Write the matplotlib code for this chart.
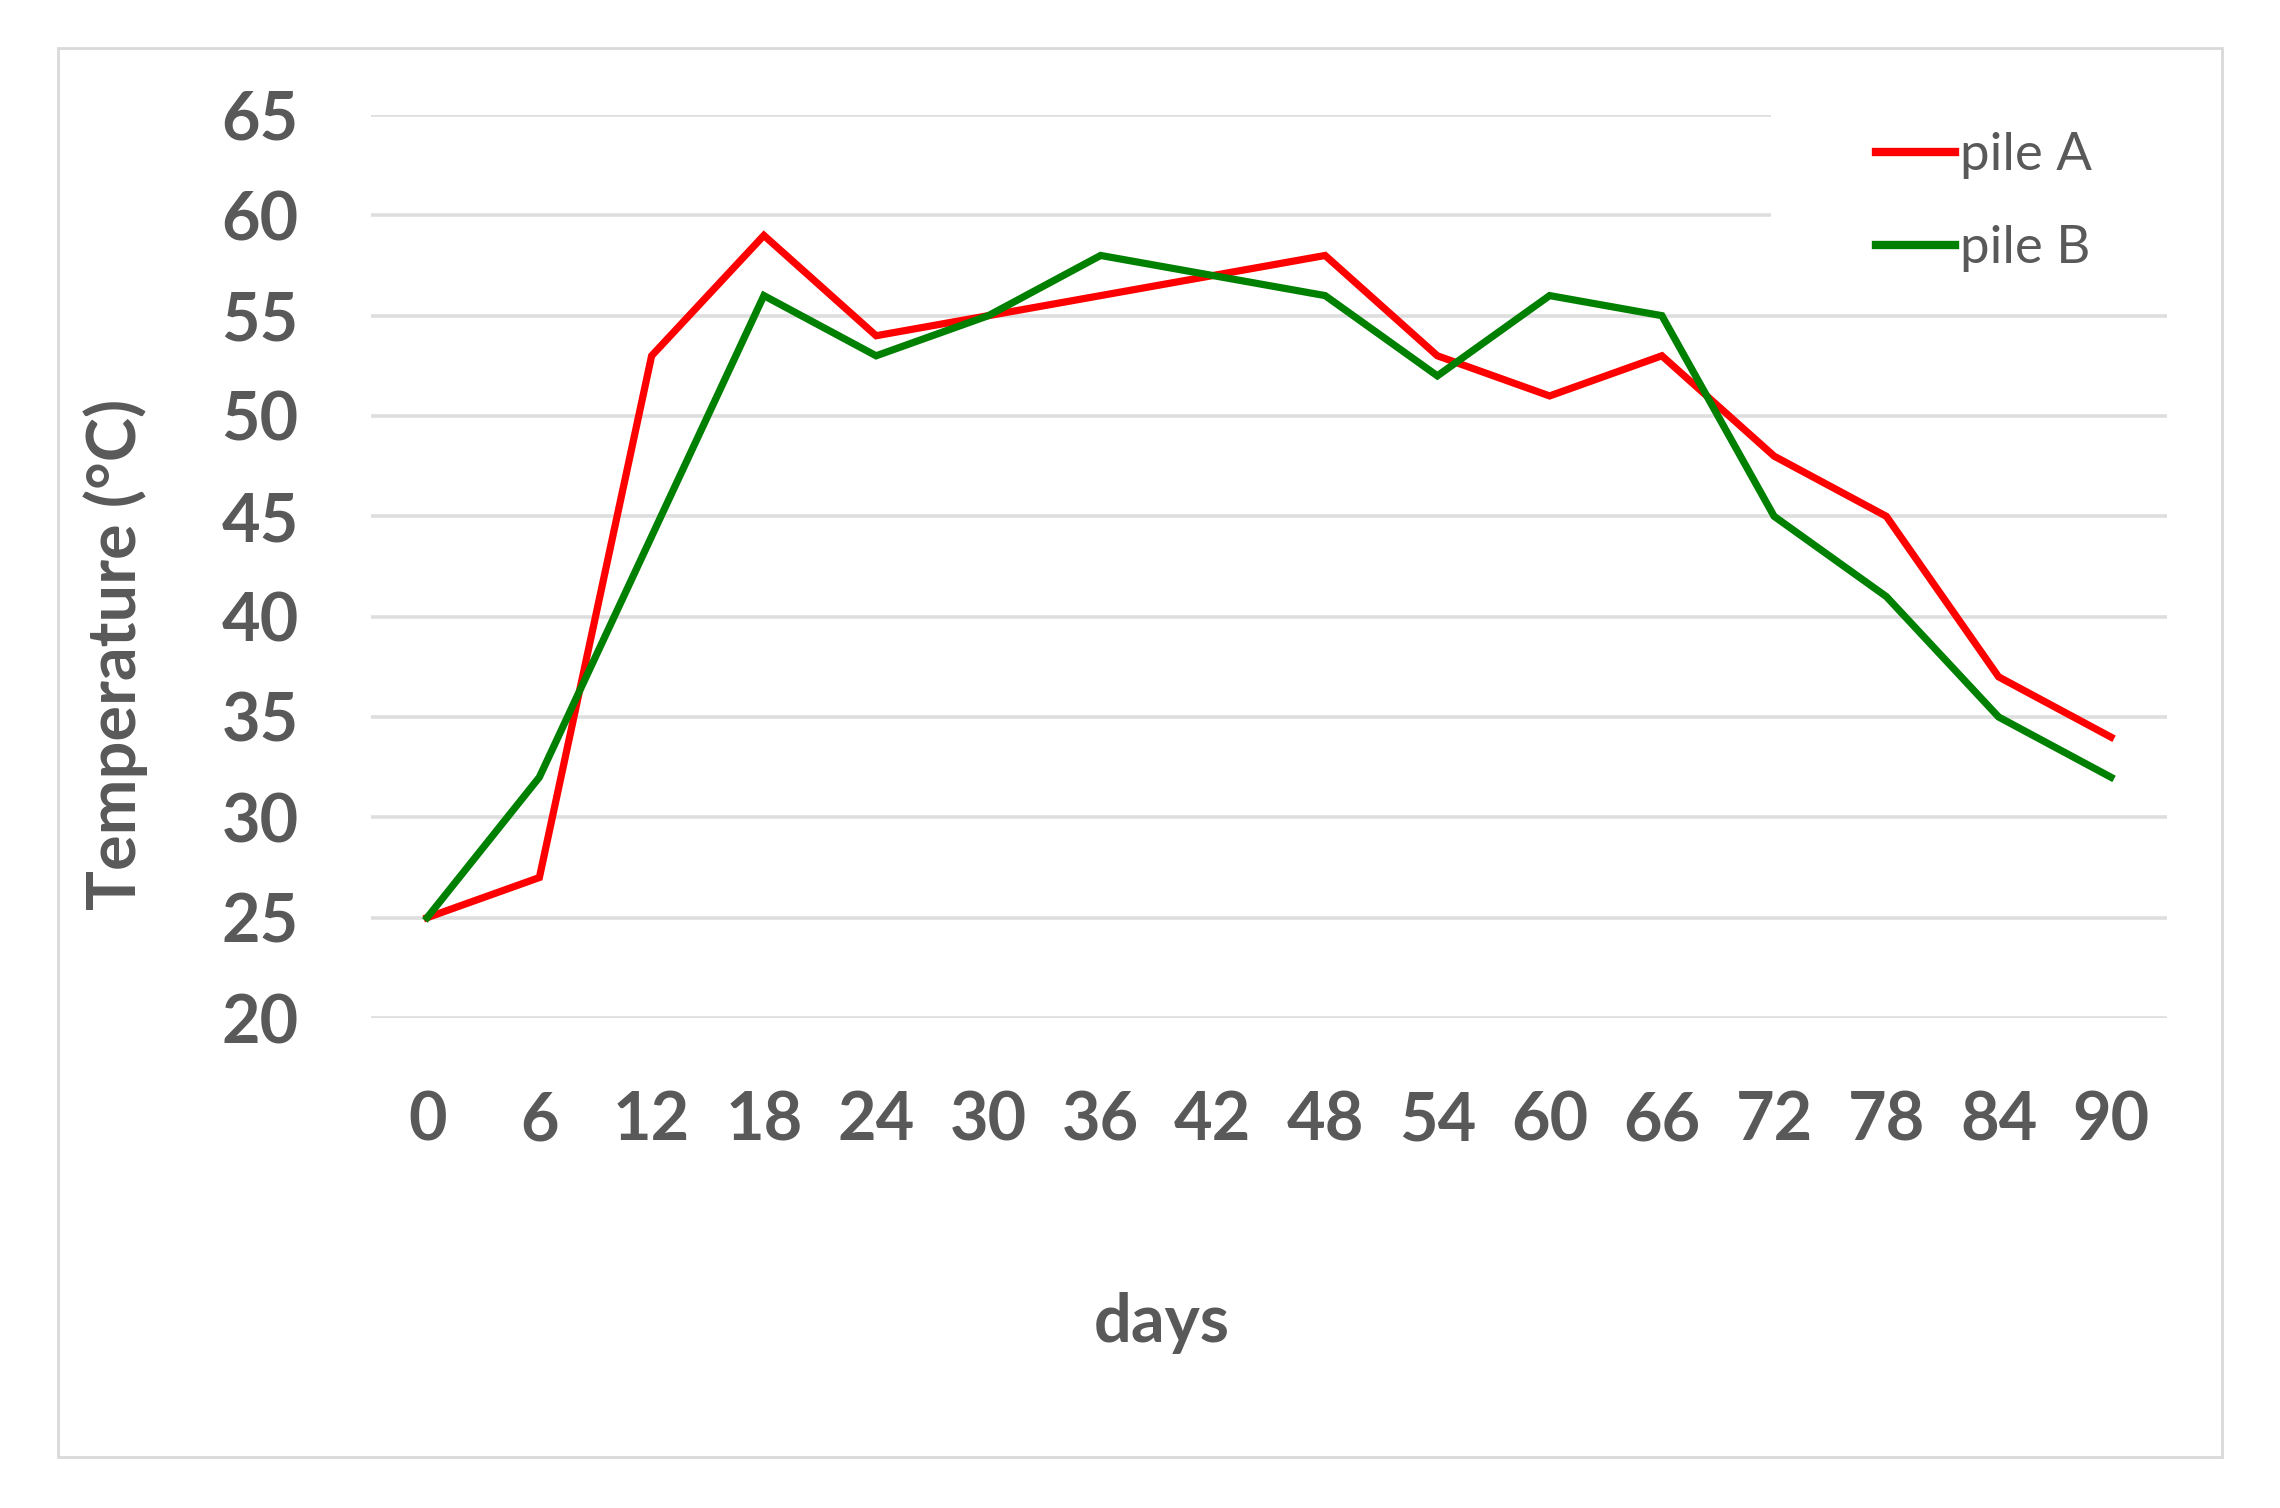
import matplotlib
matplotlib.use("Agg")
import matplotlib.pyplot as plt
from matplotlib.patches import Rectangle

days = ["0", "6", "12", "18", "24", "30", "36", "42", "48", "54", "60", "66", "72", "78", "84", "90"]
pile_a = [25, 27, 53, 59, 54, 55, 56, 57, 58, 53, 51, 53, 48, 45, 37, 34]
pile_b = [25, 32, 44, 56, 53, 55, 58, 57, 56, 52, 56, 55, 45, 41, 35, 32]
y_ticks = [20, 25, 30, 35, 40, 45, 50, 55, 60, 65]

W, H = 2280, 1508
plt.rcParams['font.family'] = ['Lato', 'DejaVu Sans']
txt = '#595959'
grid = '#dedede'

fig = plt.figure(figsize=(W / 100, H / 100), dpi=100)
fig.patches.append(Rectangle((58 / W, 1 - 1457 / H), 2164 / W, 1409 / H,
                             transform=fig.transFigure, facecolor='none',
                             edgecolor='#d9d9d9', lw=2, zorder=-1))

ax = fig.add_axes([371 / W, 1 - 1018 / H, (2167 - 371) / W, (1018 - 115) / H])
ax.set_facecolor('none')
x = list(range(len(days)))
ax.plot(x, pile_a, color='#ff0000', lw=5.2, label='pile A', solid_joinstyle='miter', zorder=3)
ax.plot(x, pile_b, color='#008000', lw=5.2, label='pile B', solid_joinstyle='miter', zorder=3)

ax.set_xlim(-0.5, len(days) - 0.5)
ax.set_ylim(20, 65)
ax.set_yticks(y_ticks)
ax.set_xticks(x)
ax.set_xticklabels(days)
ax.yaxis.grid(True, color=grid, lw=2.6)
ax.set_axisbelow(True)
for s in ax.spines.values():
    s.set_visible(False)
ax.tick_params(axis='both', length=0, labelsize=48, labelcolor=txt)
ax.tick_params(axis='y', pad=52)
ax.tick_params(axis='x', pad=52)
for lab in ax.get_xticklabels() + ax.get_yticklabels():
    lab.set_fontweight('bold')

# white legend background covering top gridlines
ax.add_patch(Rectangle((11.97, 57.5), 3.6, 9.0, facecolor='white', edgecolor='none',
                       clip_on=False, zorder=2))

leg = ax.legend(loc='upper left', bbox_to_anchor=(1876 / W, 1 - 132 / H),
                bbox_transform=fig.transFigure, frameon=False, fontsize=38,
                handlelength=1.5, handletextpad=0.1, labelspacing=0.88,
                borderpad=0, borderaxespad=0)
for t in leg.get_texts():
    t.set_color(txt)
for h in leg.get_lines():
    h.set_linewidth(6)

fig.text(1162 / W, 1 - 1323 / H, 'days', ha='center', va='center',
         fontsize=48, fontweight='bold', color=txt)
fig.text(116 / W, 1 - 654 / H, 'Temperature (°C)', ha='center', va='center',
         rotation=90, fontsize=48, fontweight='bold', color=txt)

fig.savefig('out.png', dpi=100)
